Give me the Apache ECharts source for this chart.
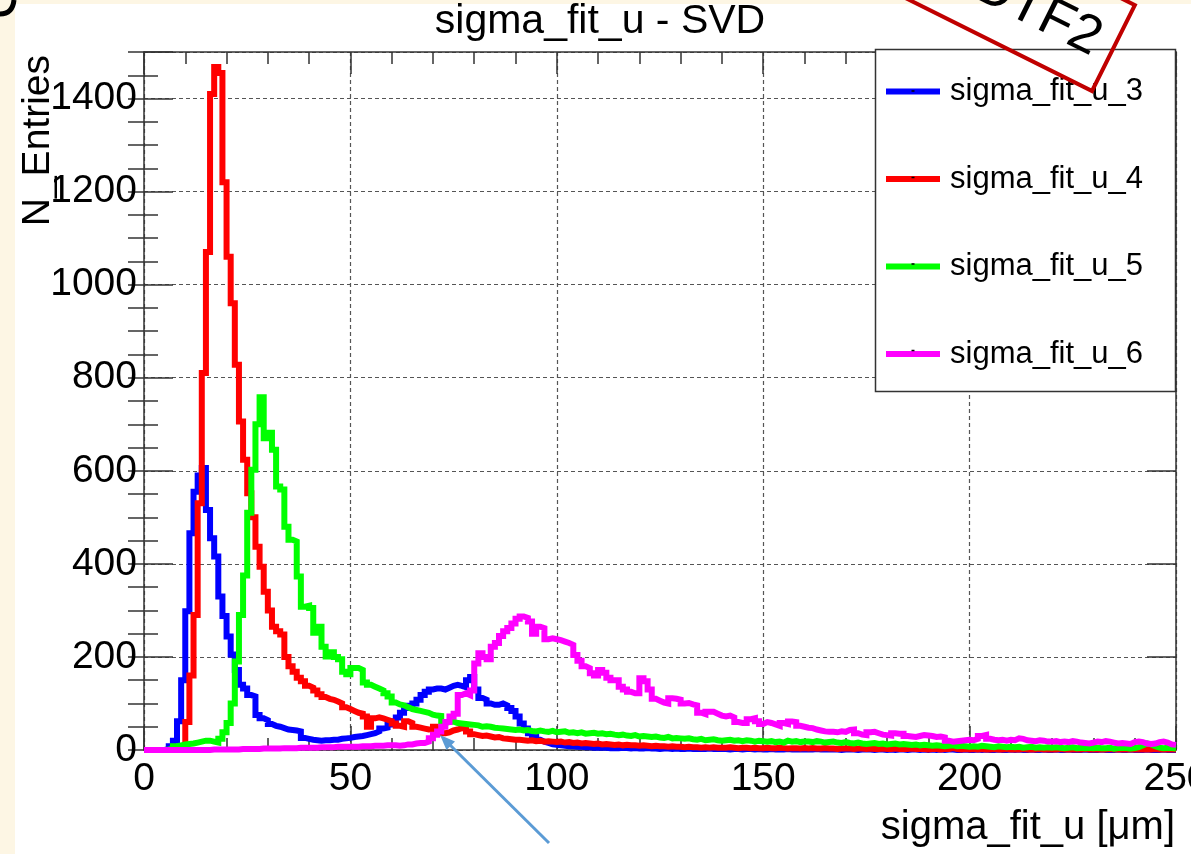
<!DOCTYPE html>
<html>
<head>
<meta charset="utf-8">
<script src="https://cdn.jsdelivr.net/npm/echarts@6/dist/echarts.min.js"></script>
<style>
  html, body { margin: 0; padding: 0; background: #fdf6e4; overflow: hidden; }
  #sheet { position: absolute; left: 15px; top: 4px; width: 1176px; height: 850px; background: #ffffff; }
  #chart { position: absolute; left: 0; top: 0; width: 1191px; height: 854px; }
</style>
</head>
<body>
<div id="sheet"></div>
<div id="chart"></div>
<script>
// Histogram binning: 250 bins of 1 um from 0 to 250 um
const binStart = 0;
const binWidth = 1;

const seriesNames = ['sigma_fit_u_3', 'sigma_fit_u_4', 'sigma_fit_u_5', 'sigma_fit_u_6'];
const seriesColors = ['#0000ff', '#ff0000', '#00ff00', '#ff00ff'];

const xTicks = [0, 50, 100, 150, 200, 250];
const yTicks = [0, 200, 400, 600, 800, 1000, 1200, 1400];

// bin contents, one value per 1 um bin
const u3 = [
  0,0,0,0,0,2,8,20,62,150,
  298,466,555,590,606,516,455,416,330,288,
  244,205,172,140,132,118,115,75,68,64,
  56,52,50,47,44,43,42,40,26,24,
  22,21,20,21,21,22,22,24,25,26,
  28,29,30,32,34,36,40,46,48,55,
  62,70,80,90,95,100,108,118,125,130,
  132,132,130,134,138,140,138,135,150,157,
  130,112,108,100,97,97,100,96,90,84,
  72,57,46,36,28,22,18,15,12,11,
  10,9,8,8,7,7,6,6,5,5,
  5,5,4,4,4,5,4,3,4,3,
  3,4,3,3,2,3,3,2,3,2,
  2,3,2,2,2,2,3,2,2,2,
  2,1,2,2,1,2,2,1,2,1,
  1,2,1,1,1,2,1,1,1,1,
  1,1,2,1,1,1,1,1,0,1,
  1,1,0,1,1,1,0,1,1,0,
  1,0,1,1,0,1,1,0,1,0,
  1,0,1,0,1,1,0,0,1,0,
  0,1,0,1,0,0,1,0,0,1,
  0,1,0,0,1,0,0,1,0,0,
  1,0,0,1,0,0,0,1,0,0,
  0,1,0,0,0,1,0,0,1,0,
  0,0,1,0,0,0,1,0,0,0
];

const u4 = [
  0,0,0,0,0,0,0,0,1,5,
  60,160,290,530,810,1070,1410,1468,1455,1220,
  1060,960,828,706,624,552,500,437,394,340,
  300,265,255,248,200,180,168,155,148,138,
  134,128,120,114,110,108,104,100,92,88,
  84,80,78,72,50,68,70,68,65,62,
  57,52,50,62,58,50,48,46,44,45,
  50,48,36,38,42,44,47,45,40,34,
  32,30,31,29,27,28,25,24,23,22,
  22,21,20,21,19,20,18,19,18,17,
  18,16,17,15,16,14,15,14,13,14,
  12,13,12,11,12,10,11,10,10,9,
  10,9,8,9,8,8,7,8,7,7,
  6,7,6,6,5,6,5,6,5,5,
  5,6,5,4,5,5,4,5,4,4,
  5,4,4,5,4,3,4,4,3,4,
  3,4,3,3,4,3,3,2,3,3,
  3,2,3,3,2,3,2,2,3,2,
  2,3,2,2,2,3,2,2,2,1,
  2,2,1,2,2,4,2,1,2,1,
  2,1,2,1,1,2,1,1,2,1,
  1,1,2,1,1,1,2,1,1,1,
  1,2,1,1,1,1,1,2,1,1,
  1,1,1,2,1,1,1,1,1,1,
  1,1,1,1,2,1,1,1,1,1
];

const u5 = [
  0,0,0,0,0,1,3,8,10,12,
  13,14,16,18,20,20,18,16,24,38,
  58,100,190,290,375,510,602,700,758,670,
  682,645,566,560,480,452,448,373,308,310,
  305,252,265,222,201,210,200,195,168,163,
  176,176,172,145,140,136,132,128,122,115,
  102,98,96,92,88,86,84,82,80,76,
  74,73,58,60,61,58,57,56,55,54,
  53,50,51,50,48,47,46,45,44,43,
  44,42,43,41,40,42,40,39,41,38,
  39,40,37,38,36,38,35,36,37,35,
  36,34,35,33,32,33,31,30,32,29,
  30,29,28,29,27,26,28,25,26,25,
  24,25,23,22,24,21,22,23,21,20,
  21,22,20,21,19,21,20,18,20,19,
  18,19,17,18,16,20,18,19,17,18,
  18,17,19,18,16,17,18,16,15,17,
  15,14,16,14,13,14,15,13,14,12,
  13,14,12,13,12,11,12,10,11,10,
  9,10,9,8,9,10,8,9,8,7,
  8,7,9,8,7,6,8,7,6,7,
  6,7,5,6,7,5,6,5,6,5,
  6,5,4,5,6,4,5,4,5,4,
  5,4,4,5,3,4,5,4,3,4,
  6,10,14,12,8,5,4,5,4,3
];

const u6 = [
  0,0,0,0,0,0,0,0,0,0,
  0,0,0,0,0,0,1,1,1,1,
  1,1,1,2,2,2,2,2,3,3,
  3,3,3,4,4,4,4,5,5,5,
  5,5,6,6,6,6,7,7,7,7,
  7,7,8,8,8,9,9,9,10,10,
  10,9,10,12,12,14,15,15,18,25,
  33,40,50,60,72,78,118,122,118,128,
  186,208,200,195,222,230,245,255,262,272,
  282,287,284,276,250,265,262,238,240,238,
  236,233,230,226,204,192,180,176,165,160,
  172,166,155,150,150,136,130,125,122,122,
  154,148,130,110,106,102,100,111,110,108,
  100,101,98,96,80,77,82,82,78,74,
  72,74,70,60,58,58,66,68,62,56,
  60,58,55,52,58,56,61,60,52,50,
  48,47,44,42,40,39,39,38,40,39,
  43,44,36,33,32,38,39,36,33,32,
  31,36,35,35,30,29,28,30,32,31,
  30,28,29,27,20,18,19,20,21,22,
  21,24,30,32,24,22,21,22,20,22,
  21,25,24,21,20,19,21,20,18,18,
  19,17,18,17,19,18,16,15,14,16,
  18,17,19,18,16,14,15,14,13,17,
  18,17,14,13,14,17,18,16,12,11
];

const histograms = [u3, u4, u5, u6];

// turn bin contents into step-line points at the bin edges
function toSteps(counts) {
  const pts = counts.map((v, i) => [binStart + i * binWidth, v]);
  pts.push([binStart + counts.length * binWidth, counts[counts.length - 1]]);
  return pts;
}

const FONT = 'Liberation Sans';
const frameColor = '#333333';
const frameLine = { show: true, onZero: false, lineStyle: { color: frameColor, width: 1.5 } };
const tickStyle = { color: frameColor, width: 1.5 };
const gridStyle = { color: '#555555', width: 1.2, type: [4, 3] };

const chart = echarts.init(document.getElementById('chart'), null, { renderer: 'canvas' });

const option = {
  animation: false,
  backgroundColor: 'transparent',
  grid: { left: 144, top: 52, right: 15, bottom: 104, containLabel: false, outerBoundsMode: 'none' },
  xAxis: [
    {
      type: 'value', min: xTicks[0], max: xTicks[xTicks.length - 1], interval: 50, position: 'bottom',
      axisLine: frameLine,
      axisTick: { show: true, inside: true, length: 24, lineStyle: tickStyle },
      minorTick: { show: true, splitNumber: 5, length: 12, lineStyle: tickStyle },
      splitLine: { show: true, lineStyle: gridStyle },
      axisLabel: { show: true, fontSize: 39, fontFamily: FONT, color: '#000', margin: 10,
        hideOverlap: false,
        formatter: v => (xTicks.indexOf(v) >= 0 ? String(v) : '') }
    },
    {
      type: 'value', min: xTicks[0], max: xTicks[xTicks.length - 1], interval: 50, position: 'top',
      axisLine: frameLine,
      axisTick: { show: true, inside: true, length: 22, lineStyle: tickStyle },
      minorTick: { show: true, splitNumber: 5, length: 12, lineStyle: tickStyle },
      splitLine: { show: false },
      axisLabel: { show: false }
    }
  ],
  yAxis: [
    {
      type: 'value', min: 0, max: 1500, interval: 200, position: 'left',
      axisLine: frameLine,
      axisTick: { show: true, inside: true, length: 29, lineStyle: tickStyle },
      splitLine: { show: true, lineStyle: gridStyle },
      axisLabel: { show: true, fontSize: 39, fontFamily: FONT, color: '#000', margin: 7,
        formatter: v => (yTicks.indexOf(v) >= 0 ? String(v) : '') }
    },
    {
      type: 'value', min: 0, max: 1500, interval: 50, position: 'left',
      axisLine: { show: false },
      axisTick: { show: true, inside: true, length: 14, lineStyle: tickStyle },
      splitLine: { show: false }, axisLabel: { show: false }
    },
    {
      type: 'value', min: 0, max: 1500, interval: 200, position: 'right',
      axisLine: frameLine,
      axisTick: { show: true, inside: true, length: 29, lineStyle: tickStyle },
      splitLine: { show: false }, axisLabel: { show: false }
    },
    {
      type: 'value', min: 0, max: 1500, interval: 50, position: 'right',
      axisLine: { show: false },
      axisTick: { show: true, inside: true, length: 16, lineStyle: tickStyle },
      splitLine: { show: false }, axisLabel: { show: false }
    }
  ],
  legend: {
    orient: 'vertical', left: 886, top: 76, padding: 0, z: 20,
    itemWidth: 54, itemHeight: 6, itemGap: 56.5, icon: 'rect', selectedMode: false,
    textStyle: { fontSize: 31, lineHeight: 30, fontFamily: FONT, color: '#000', padding: [0, 0, 0, 5] },
    data: seriesNames
  },
  series: histograms.map((h, i) => ({
    name: seriesNames[i],
    type: 'line',
    step: 'end',
    xAxisIndex: 0,
    yAxisIndex: 0,
    showSymbol: false,
    symbol: 'none',
    clip: false,
    z: 2 + i * 0.01,
    color: seriesColors[i],
    itemStyle: { color: seriesColors[i] },
    lineStyle: { color: seriesColors[i], width: 6, join: 'miter' },
    data: toSteps(h)
  })),
  graphic: {
    elements: [
      // legend frame
      { type: 'rect', z: 10, shape: { x: 875.5, y: 49.5, width: 300, height: 342 },
        style: { fill: '#ffffff', stroke: '#333333', lineWidth: 1.5 } },
      // small markers in the middle of each legend line
      ...[91, 177.5, 264, 350.5].map(cy => ({
        type: 'rect', z: 30, shape: { x: 911.5, y: cy - 0.75, width: 3, height: 1.5 },
        style: { fill: '#000000' }
      })),
      // histogram title
      { type: 'text', z: 30, x: 600, y: 22,
        style: { text: 'sigma_fit_u - SVD', fontSize: 41, fontFamily: FONT, fill: '#000',
          align: 'center', verticalAlign: 'middle', textAlign: 'center', textVerticalAlign: 'middle' } },
      // x axis title
      { type: 'text', z: 30, x: 1175, y: 828,
        style: { text: 'sigma_fit_u [\u03bcm]', fontSize: 40, fontFamily: FONT, fill: '#000',
          align: 'right', verticalAlign: 'middle', textAlign: 'right', textVerticalAlign: 'middle' } },
      // y axis title
      { type: 'text', z: 30, x: 38.5, y: 55, rotation: Math.PI / 2,
        style: { text: 'N_Entries', fontSize: 39, fontFamily: FONT, fill: '#000',
          align: 'right', verticalAlign: 'middle', textAlign: 'right', textVerticalAlign: 'middle' } },
      // curl of a slide glyph in the top-left corner
      { type: 'bezierCurve', z: 30,
        shape: { x1: 0, y1: 14, cpx1: 8, cpy1: 14, cpx2: 13, cpy2: 10, x2: 14, y2: 0 },
        style: { fill: 'none', stroke: '#000000', lineWidth: 5 } },
      // stamped red box with its label
      { type: 'group', z: 40, x: 1092, y: 91, rotation: -26.5 * Math.PI / 180,
        children: [
          { type: 'rect', z: 40, shape: { x: -330, y: -96, width: 330, height: 96 },
            style: { fill: 'none', stroke: '#c00000', lineWidth: 4 } },
          { type: 'text', z: 40, x: -84, y: -46,
            style: { text: 'DTF2', fontSize: 54, fontFamily: FONT, fill: '#000',
              align: 'center', verticalAlign: 'middle', textAlign: 'center', textVerticalAlign: 'middle' } }
        ] },
      // pointer arrow
      { type: 'line', z: 40, shape: { x1: 549, y1: 843, x2: 447, y2: 742 },
        style: { stroke: '#5b9bd5', lineWidth: 3 } },
      { type: 'polygon', z: 40, shape: { points: [[440, 735], [455, 741.5], [446.5, 750]] },
        style: { fill: '#5b9bd5' } }
    ]
  }
};

chart.setOption(option);
</script>
</body>
</html>
